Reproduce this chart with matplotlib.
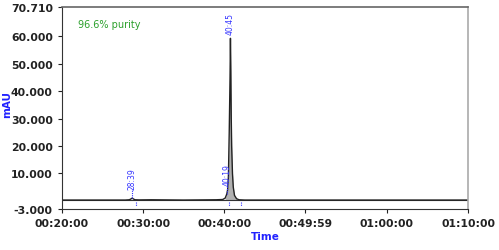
import matplotlib
matplotlib.use("Agg")
import matplotlib.pyplot as plt

# trace (minutes, mAU)
t = [20.0, 23.5, 27.8, 28.3, 28.5, 28.65, 28.8, 29.0, 29.5, 31.0, 33.0, 35.0, 37.0, 39.0, 39.8,
     40.1, 40.3, 40.4, 40.5, 40.6, 40.7, 40.75, 40.8, 40.85, 40.9, 41.0, 41.1, 41.25, 41.5, 41.8, 42.5, 50.0, 70.0]
v = [0.3, 0.3, 0.3, 0.4, 0.7, 1.0, 0.7, 0.4, 0.35, 0.4, 0.35, 0.3, 0.35, 0.4, 0.5,
     1.0, 2.5, 4.0, 9.0, 25.0, 45.0, 59.3, 47.0, 30.0, 20.0, 10.0, 5.0, 2.0, 0.8, 0.4, 0.3, 0.3, 0.3]

peak_rt = [28.65, 40.32, 40.75]
peak_h = [1.0, 2.5, 59.3]
peak_lbl = ["28:39", "40:19", "40:45"]
mark_t = [29.15, 40.6, 42.0]

xticks = [20, 30, 40, 49.983, 60, 70]
xtick_lbl = ["00:20:00", "00:30:00", "00:40:00", "00:49:59", "01:00:00", "01:10:00"]
yticks = [-3, 10, 20, 30, 40, 50, 60, 70.71]
ytick_lbl = ["-3.000", "10.000", "20.000", "30.000", "40.000", "50.000", "60.000", "70.710"]

fig = plt.figure(figsize=(4.99, 2.51), dpi=100)
ax = fig.add_axes([0.124, 0.163, 0.814, 0.805])
ax.set_xlim(20, 70)
ax.set_ylim(-3, 70.71)

ax.axhline(0.3, color="#333333", lw=0.8)
ax.fill_between(t, 0.3, v, where=[x >= 40.0 and x <= 41.6 for x in t], color="#b0b0b0", lw=0)
ax.plot(t, v, color="#222222", lw=1.0)

for rt, h, lb in zip(peak_rt, peak_h, peak_lbl):
    if h > 20:
        ax.text(rt, h + 1.5, lb, rotation=90, ha="center", va="bottom", fontsize=5.5, color="#3333ff")
    else:
        ax.plot([rt, rt], [h, h + 3], color="#3333ff", lw=0.8, ls=(0, (1, 1)))
        ax.text(rt, h + 3.2, lb, rotation=90, ha="center", va="bottom", fontsize=5.5, color="#3333ff")
for m in mark_t:
    ax.plot([m, m], [-0.5, -2.0], color="#3333ff", lw=0.8, ls=(0, (1, 1)))

ax.text(22.0, 63.5, "96.6% purity", fontsize=7, color="#2ca02c")

ax.set_xticks(xticks)
ax.set_xticklabels(xtick_lbl)
ax.set_yticks(yticks)
ax.set_yticklabels(ytick_lbl)
ax.tick_params(axis="both", labelsize=7.8, length=3, width=0.8, colors="#222222")
for lbl in ax.get_xticklabels() + ax.get_yticklabels():
    lbl.set_fontweight("bold")

for s in ["left", "bottom"]:
    ax.spines[s].set_color("#333333")
    ax.spines[s].set_linewidth(0.8)
ax.spines["top"].set_color("#666666")
ax.spines["top"].set_linewidth(1.2)
ax.spines["right"].set_color("#aaaaaa")
ax.spines["right"].set_linewidth(1.2)

ax.set_xlabel("Time", fontsize=7.5, color="#2222ff", fontweight="bold", labelpad=2)
fig.text(0.015, 0.585, "mAU", rotation=90, fontsize=7.5, color="#2222ff", fontweight="bold",
         ha="center", va="center")

fig.savefig("out.png", dpi=100)
